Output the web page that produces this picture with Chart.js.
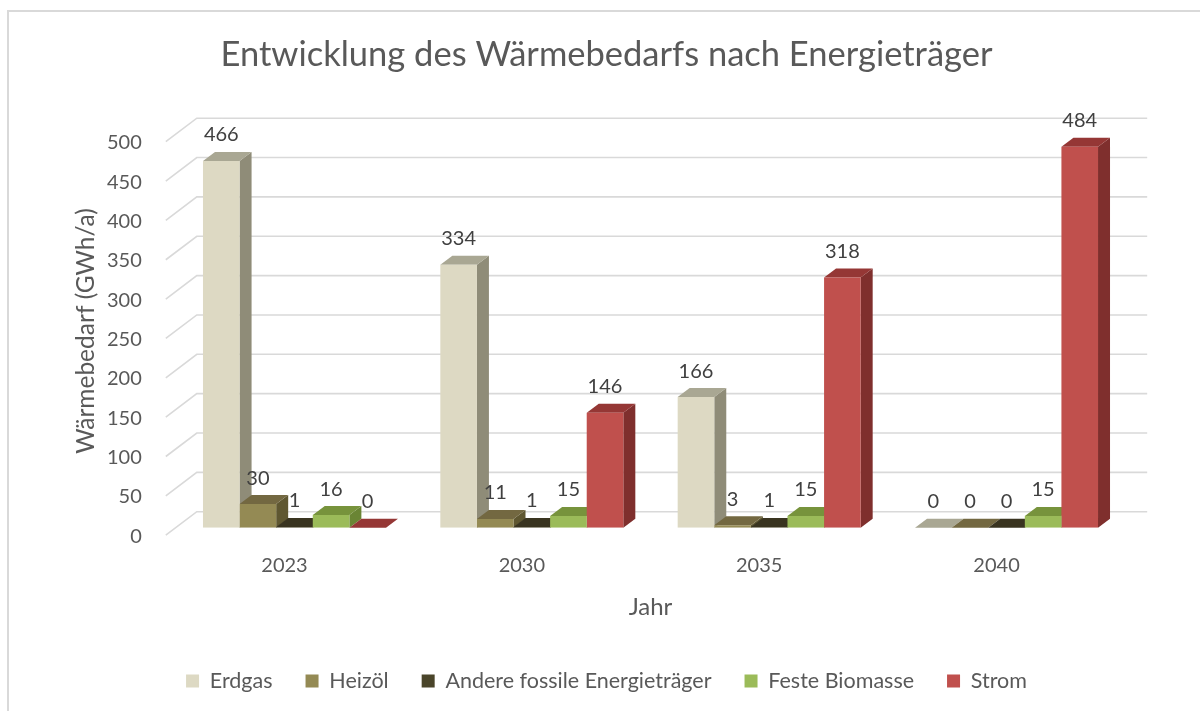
<!DOCTYPE html>
<html lang="de">
<head>
<meta charset="utf-8">
<title>Entwicklung des Wärmebedarfs nach Energieträger</title>
<script src="https://cdn.jsdelivr.net/npm/chart.js@4.4.1/dist/chart.umd.min.js"></script>
<style>
  html, body { margin: 0; padding: 0; background: #fff; overflow: hidden; }
  #frame { position: absolute; left: 7px; top: 10px; width: 1300px; height: 800px; border: 2px solid #d9d9d9; }
  #myChart { position: absolute; left: 0; top: 0; }
</style>
</head>
<body>
<div id="frame"></div>
<canvas id="myChart" width="1200" height="711"></canvas>
<script>
// values (GWh/a)
const years = ['2023', '2030', '2035', '2040'];
const seriesNames = ['Erdgas', 'Heizöl', 'Andere fossile Energieträger', 'Feste Biomasse', 'Strom'];
const erdgas = [466, 334, 166, 0];
const heizoel = [30, 11, 3, 0];
const andere = [1, 1, 1, 0];
const biomasse = [16, 15, 15, 15];
const strom = [0, 146, 318, 484];
const yMin = 0;
const yMax = 500;
const yStep = 50;

// front / top / side shades for the 3d look
const frontCols = ['#ddd9c3', '#948a54', '#4a452a', '#9bbb59', '#c0504d'];
const topCols = ['#a9a793', '#736841', '#393420', '#77933c', '#953735'];
const sideCols = ['#8f8c78', '#5f5731', '#2c2818', '#6a8534', '#7f2f2d'];

const FONT = 'Lato';
const GREY = '#595959';

// depth of one bar (px)
const barDx = 12, barDy = -9;

const bars3d = {
  id: 'bars3d',
  beforeDatasetsDraw(chart) {
    const ctx = chart.ctx;
    const yS = chart.scales.y;
    const area = chart.chartArea;
    ctx.save();
    // back wall + slanted side-wall gridlines
    ctx.strokeStyle = '#d9d9d9';
    ctx.lineWidth = 1.6;
    yS.ticks.forEach(t => {
      const py = yS.getPixelForValue(t.value);
      ctx.beginPath();
      ctx.moveTo(area.left - 10, py + 7.5);
      ctx.lineTo(area.left + 21, py - 16);
      ctx.lineTo(area.right + 22, py - 16);
      ctx.stroke();
    });
    // sides and tops, drawn left to right so the next front covers them
    years.forEach((yr, i) => {
      chart.data.datasets.forEach((ds, d) => {
        const el = chart.getDatasetMeta(d).data[i];
        const p = el.getProps(['x', 'y', 'base', 'width'], true);
        const l = p.x - p.width / 2, r = p.x + p.width / 2;
        ctx.fillStyle = sideCols[d];
        ctx.beginPath();
        ctx.moveTo(r, p.y);
        ctx.lineTo(r + barDx, p.y + barDy);
        ctx.lineTo(r + barDx, p.base + barDy);
        ctx.lineTo(r, p.base);
        ctx.closePath();
        ctx.fill();
        ctx.fillStyle = topCols[d];
        ctx.beginPath();
        ctx.moveTo(l, p.y);
        ctx.lineTo(r, p.y);
        ctx.lineTo(r + barDx, p.y + barDy);
        ctx.lineTo(l + barDx, p.y + barDy);
        ctx.closePath();
        ctx.fill();
      });
    });
    ctx.restore();
  },
  afterDatasetsDraw(chart) {
    const ctx = chart.ctx;
    ctx.save();
    ctx.font = '20px ' + FONT;
    ctx.fillStyle = '#404040';
    ctx.textAlign = 'center';
    ctx.textBaseline = 'middle';
    chart.data.datasets.forEach((ds, d) => {
      chart.getDatasetMeta(d).data.forEach((el, i) => {
        const p = el.getProps(['x', 'y'], true);
        ctx.fillText(String(ds.data[i]), p.x, p.y - 26);
      });
    });
    ctx.restore();
  }
};

const seriesData = [erdgas, heizoel, andere, biomasse, strom];

const config = {
  type: 'bar',
  data: {
    labels: years,
    datasets: seriesNames.map((name, d) => ({
      label: name,
      data: seriesData[d],
      backgroundColor: frontCols[d],
      borderWidth: 0,
      categoryPercentage: 0.771,
      barPercentage: 1
    }))
  },
  options: {
    responsive: false,
    animation: false,
    layout: { padding: { left: 13, right: 0, top: 0, bottom: 9.25 } },
    plugins: {
      title: {
        display: true,
        text: 'Entwicklung des Wärmebedarfs nach Energieträger',
        color: GREY,
        font: { family: FONT, size: 34.5, weight: 'normal' },
        padding: { top: 34.3, bottom: 58.5 }
      },
      legend: {
        position: 'bottom',
        labels: {
          color: GREY,
          boxWidth: 13,
          boxHeight: 13,
          padding: 33,
          font: { family: FONT, size: 21.5 }
        }
      },
      tooltip: { enabled: false }
    },
    scales: {
      x: {
        grid: { display: false, drawTicks: false },
        border: { display: false },
        ticks: { color: GREY, font: { family: FONT, size: 20 }, padding: 26, labelOffset: -10 },
        title: {
          display: true, text: 'Jahr', color: GREY,
          font: { family: FONT, size: 24 }, padding: { top: 0, bottom: 15.85 }
        },
        afterFit(scale) { scale.height = 109.55; }
      },
      y: {
        min: yMin,
        max: yMax,
        grid: { display: false, drawTicks: false },
        border: { display: false },
        ticks: { stepSize: yStep, color: GREY, font: { family: FONT, size: 20 }, padding: 34, labelOffset: 8.5 },
        title: {
          display: true, text: 'Wärmebedarf (GWh/a)', color: GREY,
          font: { family: FONT, size: 24.5 }, padding: { top: 58.75, bottom: 0 }
        },
        afterFit(scale) { scale.width = 162.8; }
      },
      // empty right-hand strip, keeps space for the back wall depth
      yRight: {
        type: 'linear',
        position: 'right',
        min: 0,
        max: 1,
        grid: { display: false, drawTicks: false },
        border: { display: false },
        ticks: { display: false },
        afterFit(scale) { scale.width = 74.8; }
      }
    }
  },
  plugins: [bars3d]
};

new Chart(document.getElementById('myChart'), config);
</script>
</body>
</html>
